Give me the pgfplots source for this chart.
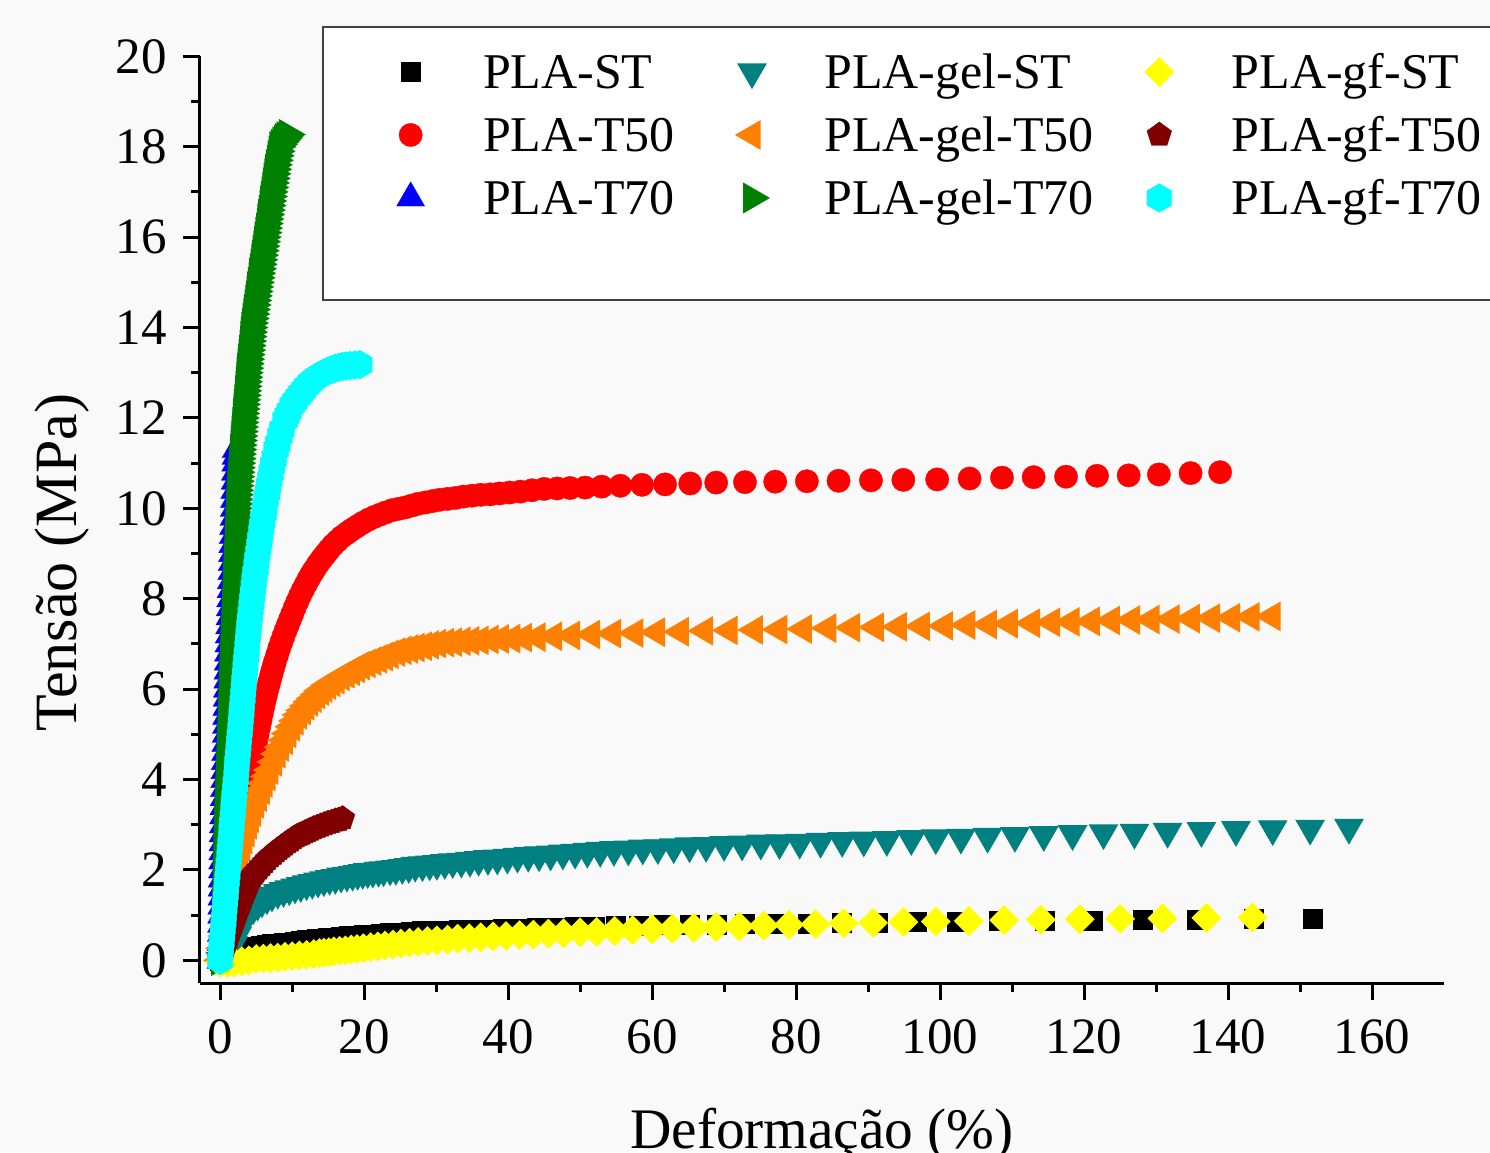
\documentclass[border=0pt]{standalone}
\usepackage{pgfplots}
\pgfplotsset{compat=1.18}
\usepackage{fontspec}
\setmainfont{Liberation Serif}
\definecolor{bgc}{RGB}{249,249,249}
\definecolor{cST}{RGB}{0,0,0}
\definecolor{cTa}{RGB}{255,0,0}
\definecolor{cTb}{RGB}{0,0,255}
\definecolor{cgST}{RGB}{0,128,128}
\definecolor{cgTa}{RGB}{255,128,0}
\definecolor{cgTb}{RGB}{0,128,0}
\definecolor{cfST}{RGB}{255,255,0}
\definecolor{cfTa}{RGB}{128,0,0}
\definecolor{cfTb}{RGB}{0,255,255}
\pgfdeclareplotmark{hexagon*}{%
  \pgfpathmoveto{\pgfqpointpolar{90}{\pgfplotmarksize}}%
  \pgfpathlineto{\pgfqpointpolar{150}{\pgfplotmarksize}}%
  \pgfpathlineto{\pgfqpointpolar{210}{\pgfplotmarksize}}%
  \pgfpathlineto{\pgfqpointpolar{270}{\pgfplotmarksize}}%
  \pgfpathlineto{\pgfqpointpolar{330}{\pgfplotmarksize}}%
  \pgfpathlineto{\pgfqpointpolar{30}{\pgfplotmarksize}}%
  \pgfpathclose
  \pgfusepathqfillstroke
}
\pgfplotsset{
  mk/.style={only marks, color=#1, mark options={solid, fill=#1, draw=#1, line width=0.1pt}},
}
\begin{document}
\begin{tikzpicture}
\path[use as bounding box] (-60pt,-50.7pt) rectangle (387pt,294.9pt);
\clip (-60pt,-50.7pt) rectangle (387pt,294.9pt);
\fill[bgc] (-60pt,-50.7pt) rectangle (387pt,294.9pt);
\filldraw[fill=white, draw=black!75, line width=0.6pt] (36.9pt,204.9pt) rectangle (400pt,286.8pt);
\begin{axis}[
  at={(0pt,0pt)}, anchor=south west,
  width=373.2pt, height=278pt, scale only axis,
  xmin=-2.8, xmax=170, ymin=-0.5, ymax=20,
  axis x line*=bottom, axis y line*=left,
  axis line style={-, line width=0.9pt, black},
  xtick={0,20,...,160}, ytick={0,2,...,20},
  minor x tick num=1, minor y tick num=1,
  tick align=outside,
  major tick length=5.1pt, minor tick length=2.7pt,
  tick style={black, line width=0.9pt},
  /pgf/number format/assume math mode=true,
  ticklabel style={font=\fontsize{15.3}{18}\selectfont},
  xticklabel style={inner sep=0pt, anchor=north, yshift=-5.7pt},
  yticklabel style={inner sep=0pt, anchor=east, xshift=-4.65pt},
  xlabel={Deformação (\%)},
  ylabel={Tensão (MPa)},
  xlabel style={font=\fontsize{17.2}{20}\selectfont, at={(axis description cs:0.5,0)}, anchor=base, yshift=-49.5pt},
  ylabel style={font=\fontsize{18}{21}\selectfont, at={(axis description cs:-0.0989,0.4538)}, anchor=base},
  legend columns=3, transpose legend,
  legend style={at={(0.15005,1.01709)}, anchor=north west, draw=none, fill=none,
    inner sep=0pt, outer sep=0pt, /tikz/column sep=0pt, /tikz/row sep=0pt,
    font=\fontsize{15}{18}\selectfont,
    nodes={inner sep=0pt, text height=14.45pt, text depth=4.45pt}},
  legend image code/.code={\path (-7pt,0pt) (21.5pt,0pt); \draw[mark repeat=2,mark phase=2,#1] plot coordinates {(-1pt,0pt) (0pt,0pt) (1pt,0pt)};},
]
% PLA-ST
\addplot[mk=cST, mark=square*, mark size=2.85pt] coordinates {
(0,0) (0.8,0.04) (1.6,0.09) (2.4,0.15) (3.2,0.21) (4.0,0.27) (4.8,0.30) (5.6,0.33) (6.4,0.35) (7.2,0.36) (8.0,0.38) (8.8,0.39) (9.6,0.40) (10.4,0.42) (11.2,0.43) (12.0,0.45) (12.7,0.46) (13.4,0.48) (14.2,0.49) (15.0,0.50) (15.9,0.51) (16.8,0.53) (17.8,0.54) (18.8,0.55) (19.9,0.57) (21.1,0.58) (22.3,0.59) (23.6,0.61) (25.0,0.62) (26.4,0.63) (28.0,0.65) (29.6,0.66) (31.3,0.665) (33.1,0.67) (35.1,0.68) (37.1,0.69) (39.2,0.70) (41.5,0.71) (43.9,0.72) (46.5,0.735) (49.2,0.745) (52.0,0.75) (55.0,0.76) (58.2,0.77) (61.6,0.78) (65.2,0.79) (68.9,0.80) (72.9,0.805) (77.2,0.815) (81.6,0.82) (86.4,0.83) (91.4,0.845) (96.7,0.85) (102.3,0.86) (108.2,0.87) (114.5,0.88) (121.2,0.89) (128.2,0.90) (135.6,0.91) (143.5,0.92) (151.8,0.93)
};
\addlegendentry{\makebox[73.5pt][l]{PLA-ST}}
% PLA-T50
\addplot[mk=cTa, mark=*, mark size=3.5pt] coordinates {
(0,0) (0.3,0.3) (0.6,0.6) (0.9,0.9) (1.2,1.2) (1.5,1.5) (1.8,1.8) (2.1,2.1) (2.4,2.4) (2.7,2.7) (3.0,3.0) (3.3,3.29) (3.6,3.57) (3.8,3.76) (4.0,3.95) (4.2,4.13) (4.4,4.31) (4.6,4.49) (4.8,4.66) (5.0,4.82) (5.2,4.99) (5.4,5.15) (5.6,5.31) (5.8,5.47) (6.0,5.62) (6.2,5.76) (6.4,5.89) (6.6,6.02) (6.8,6.14) (7.0,6.26) (7.2,6.38) (7.4,6.49) (7.6,6.6) (7.9,6.75) (8.2,6.9) (8.5,7.04) (8.8,7.17) (9.1,7.3) (9.4,7.42) (9.7,7.54) (10.0,7.66) (10.35,7.8) (10.7,7.93) (11.1,8.07) (11.5,8.2) (11.9,8.32) (12.3,8.44) (12.7,8.55) (13.1,8.65) (13.6,8.77) (14.1,8.88) (14.6,8.98) (15.1,9.08) (15.7,9.19) (16.3,9.28) (16.9,9.37) (17.6,9.45) (18.3,9.53) (19.0,9.6) (19.8,9.68) (20.6,9.75) (21.4,9.81) (22.2,9.86) (23.0,9.91) (23.9,9.96) (24.8,9.99) (25.7,10.02) (26.6,10.06) (27.5,10.1) (28.5,10.13) (29.5,10.16) (30.5,10.19) (31.6,10.21) (32.7,10.23) (33.8,10.26) (35.0,10.28) (36.2,10.3) (37.5,10.31) (38.8,10.33) (40.2,10.35) (41.7,10.37) (43.3,10.4) (45.0,10.43) (46.8,10.44) (48.6,10.45) (50.7,10.46) (53.0,10.48) (55.6,10.5) (58.6,10.52) (61.8,10.53) (65.3,10.55) (68.9,10.57) (72.9,10.58) (77.1,10.59) (81.5,10.6) (85.9,10.61) (90.4,10.62) (94.9,10.63) (99.6,10.64) (104.1,10.66) (108.6,10.68) (113.0,10.69) (117.5,10.7) (121.8,10.72) (126.2,10.73) (130.4,10.75) (134.8,10.78) (138.9,10.8)
};
\addlegendentry{\makebox[73.5pt][l]{PLA-T50}}
% PLA-T70
\addplot[mk=cTb, mark=triangle*, mark size=4.85pt] coordinates {
(0.1,0) (0.12,0.2) (0.14,0.4) (0.16,0.6) (0.18,0.8) (0.2,1.0) (0.22,1.2) (0.24,1.4) (0.26,1.6) (0.28,1.8) (0.3,2.0) (0.33,2.2) (0.35,2.4) (0.38,2.6) (0.4,2.8) (0.44,3.0) (0.47,3.2) (0.51,3.4) (0.55,3.6) (0.58,3.8) (0.62,4.0) (0.66,4.2) (0.7,4.4) (0.74,4.6) (0.78,4.8) (0.82,5.0) (0.86,5.2) (0.89,5.4) (0.93,5.6) (0.96,5.8) (1.0,6.0) (1.04,6.2) (1.08,6.4) (1.12,6.6) (1.16,6.8) (1.2,7.0) (1.25,7.2) (1.3,7.4) (1.35,7.6) (1.4,7.8) (1.45,8.0) (1.5,8.2) (1.55,8.4) (1.6,8.6) (1.65,8.8) (1.7,9.0) (1.75,9.2) (1.8,9.4) (1.85,9.6) (1.9,9.8) (1.95,10.0) (1.99,10.2) (2.03,10.4) (2.07,10.6) (2.11,10.8) (2.15,11.0) (2.19,11.15) (2.22,11.3)
};
\addlegendentry{\makebox[73.5pt][l]{PLA-T70}}
% PLA-gel-ST
\addplot[mk=cgST, mark=triangle*, mark size=4.75pt, mark options={rotate=180}] coordinates {
(0,0) (0.6,0.07) (1.2,0.18) (1.8,0.34) (2.4,0.56) (3.0,0.8) (3.5,0.95) (4.0,1.05) (4.6,1.16) (5.2,1.24) (5.8,1.31) (6.5,1.38) (7.2,1.44) (8.0,1.5) (8.8,1.54) (9.6,1.58) (10.4,1.62) (11.2,1.65) (12.0,1.69) (12.8,1.72) (13.6,1.75) (14.4,1.78) (15.2,1.81) (16.0,1.83) (16.8,1.86) (17.6,1.88) (18.4,1.9) (19.1,1.92) (19.8,1.94) (20.5,1.96) (21.2,1.97) (22.0,1.99) (22.7,2.0) (23.6,2.02) (24.4,2.03) (25.3,2.05) (26.2,2.07) (27.1,2.1) (28.1,2.11) (29.1,2.13) (30.1,2.14) (31.2,2.16) (32.3,2.18) (33.5,2.19) (34.7,2.21) (35.9,2.23) (37.2,2.25) (38.5,2.26) (39.9,2.28) (41.3,2.3) (42.8,2.32) (44.3,2.33) (45.9,2.35) (47.6,2.37) (49.3,2.39) (51.0,2.41) (52.8,2.43) (54.7,2.45) (56.7,2.46) (58.7,2.48) (60.8,2.49) (63.0,2.51) (65.2,2.53) (67.5,2.54) (70.0,2.56) (72.5,2.57) (75.1,2.59) (77.7,2.6) (80.5,2.61) (83.4,2.63) (86.4,2.65) (89.4,2.66) (92.6,2.67) (96.0,2.69) (99.4,2.71) (102.9,2.72) (106.6,2.74) (110.4,2.76) (114.4,2.78) (118.4,2.8) (122.7,2.82) (127.0,2.83) (131.6,2.85) (136.3,2.87) (141.1,2.89) (146.2,2.91) (151.4,2.92) (156.8,2.94)
};
\addlegendentry{\makebox[93.3pt][l]{PLA-gel-ST}}
% PLA-gel-T50
\addplot[mk=cgTa, mark=triangle*, mark size=4.75pt, mark options={rotate=90}] coordinates {
(0,0) (0.3,0.27) (0.6,0.54) (0.9,0.81) (1.2,1.08) (1.5,1.35) (1.8,1.62) (2.1,1.87) (2.4,2.08) (2.7,2.29) (3.0,2.5) (3.3,2.67) (3.6,2.83) (3.9,3.0) (4.2,3.14) (4.5,3.28) (4.9,3.46) (5.3,3.61) (5.7,3.77) (6.1,3.92) (6.5,4.07) (6.9,4.21) (7.4,4.39) (7.9,4.57) (8.4,4.72) (8.9,4.87) (9.4,5.02) (9.9,5.17) (10.4,5.3) (10.9,5.43) (11.4,5.53) (11.9,5.63) (12.4,5.72) (12.9,5.8) (13.4,5.88) (13.9,5.96) (14.4,6.02) (14.9,6.09) (15.5,6.15) (16.1,6.21) (16.8,6.28) (17.5,6.34) (18.2,6.4) (18.9,6.46) (19.6,6.52) (20.4,6.57) (21.2,6.62) (22.0,6.67) (22.8,6.72) (23.6,6.77) (24.5,6.82) (25.4,6.86) (26.3,6.89) (27.2,6.92) (28.2,6.95) (29.2,6.98) (30.2,7.01) (31.3,7.03) (32.4,7.04) (33.6,7.06) (34.8,7.07) (36.1,7.08) (37.5,7.1) (38.9,7.11) (40.5,7.12) (42.1,7.14) (44.0,7.15) (46.3,7.17) (48.8,7.19) (51.6,7.21) (54.5,7.23) (57.6,7.24) (60.6,7.26) (63.9,7.27) (67.3,7.29) (70.7,7.3) (74.2,7.31) (77.6,7.32) (81.0,7.33) (84.4,7.35) (87.7,7.36) (91.0,7.37) (94.2,7.38) (97.4,7.39) (100.6,7.4) (103.7,7.42) (106.7,7.43) (109.6,7.45) (112.7,7.46) (115.5,7.48) (118.2,7.49) (121.0,7.5) (123.8,7.52) (126.6,7.53) (129.3,7.54) (132.1,7.55) (134.9,7.56) (137.7,7.57) (140.5,7.58) (143.2,7.6) (146.1,7.61)
};
\addlegendentry{\makebox[93.3pt][l]{PLA-gel-T50}}
% PLA-gel-T70
\addplot[mk=cgTb, mark=triangle*, mark size=5pt, mark options={rotate=-90}] coordinates {
(0,0) (0.02,0.1) (0.03,0.2) (0.05,0.3) (0.06,0.4) (0.08,0.5) (0.09,0.6) (0.11,0.7) (0.12,0.8) (0.14,0.9) (0.15,1.0) (0.17,1.1) (0.18,1.2) (0.2,1.3) (0.21,1.4) (0.23,1.5) (0.24,1.6) (0.26,1.7) (0.27,1.8) (0.29,1.9) (0.3,2.0) (0.31,2.1) (0.33,2.2) (0.34,2.3) (0.35,2.4) (0.36,2.5) (0.38,2.6) (0.39,2.7) (0.4,2.8) (0.42,2.9) (0.44,3.0) (0.47,3.1) (0.49,3.2) (0.51,3.3) (0.53,3.4) (0.56,3.5) (0.58,3.6) (0.6,3.7) (0.62,3.8) (0.64,3.9) (0.67,4.0) (0.69,4.1) (0.71,4.2) (0.73,4.3) (0.76,4.4) (0.78,4.5) (0.8,4.6) (0.82,4.7) (0.84,4.8) (0.87,4.9) (0.89,5.0) (0.91,5.1) (0.93,5.2) (0.96,5.3) (0.98,5.4) (1.0,5.5) (1.02,5.6) (1.04,5.7) (1.06,5.8) (1.08,5.9) (1.1,6.0) (1.12,6.1) (1.14,6.2) (1.16,6.3) (1.18,6.4) (1.2,6.5) (1.23,6.6) (1.25,6.7) (1.28,6.8) (1.3,6.9) (1.33,7.0) (1.35,7.1) (1.38,7.2) (1.4,7.3) (1.43,7.4) (1.45,7.5) (1.48,7.6) (1.5,7.7) (1.53,7.8) (1.55,7.9) (1.58,8.0) (1.6,8.1) (1.63,8.2) (1.65,8.3) (1.68,8.4) (1.7,8.5) (1.73,8.6) (1.76,8.7) (1.78,8.8) (1.81,8.9) (1.84,9.0) (1.87,9.1) (1.89,9.2) (1.92,9.3) (1.95,9.4) (1.97,9.5) (2.0,9.6) (2.02,9.7) (2.05,9.8) (2.07,9.9) (2.09,10.0) (2.12,10.1) (2.14,10.2) (2.18,10.3) (2.22,10.4) (2.27,10.5) (2.32,10.6) (2.36,10.7) (2.41,10.8) (2.45,10.9) (2.5,11.0) (2.55,11.1) (2.6,11.2) (2.65,11.3) (2.7,11.4) (2.75,11.5) (2.8,11.6) (2.85,11.7) (2.9,11.8) (2.95,11.9) (3.0,12.0) (3.06,12.1) (3.11,12.2) (3.17,12.3) (3.22,12.4) (3.28,12.5) (3.33,12.6) (3.39,12.7) (3.44,12.8) (3.5,12.9) (3.55,13.0) (3.62,13.1) (3.68,13.2) (3.75,13.3) (3.81,13.4) (3.88,13.5) (3.94,13.6) (4.01,13.7) (4.07,13.8) (4.14,13.9) (4.2,14.0) (4.29,14.1) (4.38,14.2) (4.47,14.3) (4.56,14.4) (4.65,14.5) (4.74,14.6) (4.83,14.7) (4.92,14.8) (5.01,14.9) (5.1,15.0) (5.2,15.1) (5.29,15.2) (5.39,15.3) (5.48,15.4) (5.58,15.5) (5.67,15.6) (5.77,15.7) (5.86,15.8) (5.96,15.9) (6.05,16.0) (6.15,16.1) (6.24,16.2) (6.34,16.3) (6.43,16.4) (6.53,16.5) (6.62,16.6) (6.72,16.7) (6.81,16.8) (6.91,16.9) (7.0,17.0) (7.1,17.1) (7.2,17.2) (7.3,17.3) (7.4,17.4) (7.5,17.5) (7.6,17.6) (7.73,17.7) (7.85,17.8) (7.98,17.9) (8.1,18.0) (8.3,18.05) (8.5,18.1) (8.7,18.14) (8.9,18.18) (9.1,18.22) (9.4,18.27)
};
\addlegendentry{\makebox[93.3pt][l]{PLA-gel-T70}}
% PLA-gf-ST
\addplot[mk=cfST, mark=square*, mark size=2.97pt, mark options={rotate=45}] coordinates {
(0,-0.05) (1,-0.06) (2,-0.05) (3,-0.02) (4,0.0) (5,0.03) (6,0.04) (7,0.05) (8,0.06) (9,0.08) (10,0.09) (11,0.11) (12,0.12) (13,0.14) (13.8,0.16) (14.4,0.17) (15.1,0.18) (15.8,0.2) (16.6,0.21) (17.4,0.22) (18.2,0.24) (19.0,0.25) (19.9,0.27) (20.9,0.29) (21.9,0.31) (22.9,0.33) (24.0,0.35) (25.1,0.37) (26.3,0.39) (27.5,0.41) (28.8,0.43) (30.1,0.44) (31.6,0.46) (33.0,0.48) (34.6,0.49) (36.2,0.51) (37.9,0.53) (39.7,0.54) (41.6,0.56) (43.5,0.57) (45.6,0.59) (47.7,0.6) (50.0,0.62) (52.3,0.63) (54.8,0.65) (57.3,0.67) (60.0,0.69) (62.8,0.7) (65.8,0.72) (68.9,0.74) (72.1,0.75) (75.5,0.77) (79.0,0.79) (82.7,0.8) (86.6,0.82) (90.7,0.83) (94.9,0.85) (99.4,0.86) (104.0,0.87) (108.9,0.89) (114.0,0.9) (119.4,0.91) (125.0,0.92) (130.9,0.93) (137.0,0.94) (143.4,0.95)
};
\addlegendentry{\makebox[70pt][l]{PLA-gf-ST}}
% PLA-gf-T50
\addplot[mk=cfTa, mark=pentagon*, mark size=3.9pt] coordinates {
(0,0) (0.25,0.1) (0.5,0.21) (0.75,0.31) (1.0,0.42) (1.25,0.53) (1.5,0.65) (1.75,0.76) (2.0,0.88) (2.25,0.98) (2.5,1.09) (2.75,1.19) (3.0,1.3) (3.25,1.4) (3.5,1.5) (3.75,1.6) (4.0,1.7) (4.25,1.8) (4.5,1.86) (4.75,1.91) (5.0,1.96) (5.4,2.03) (5.8,2.1) (6.2,2.17) (6.6,2.24) (7.0,2.3) (7.4,2.35) (7.8,2.41) (8.2,2.46) (8.6,2.51) (9.0,2.56) (9.4,2.61) (9.8,2.65) (10.2,2.7) (10.6,2.74) (11.0,2.77) (11.4,2.8) (11.8,2.83) (12.2,2.86) (12.6,2.89) (13.0,2.92) (13.5,2.95) (14.0,2.98) (14.5,3.01) (15.0,3.04) (15.5,3.06) (16.0,3.09) (16.5,3.11) (17.0,3.14)
};
\addlegendentry{\makebox[70pt][l]{PLA-gf-T50}}
% PLA-gf-T70
\addplot[mk=cfTb, mark=hexagon*, mark size=4.3pt] coordinates {
(0,0) (0.08,0.15) (0.16,0.3) (0.24,0.45) (0.32,0.6) (0.41,0.75) (0.49,0.9) (0.57,1.05) (0.65,1.2) (0.73,1.35) (0.81,1.5) (0.89,1.65) (0.97,1.8) (1.05,1.95) (1.13,2.1) (1.22,2.25) (1.3,2.4) (1.38,2.55) (1.46,2.7) (1.54,2.85) (1.62,3.0) (1.7,3.15) (1.78,3.3) (1.86,3.45) (1.94,3.6) (2.03,3.75) (2.11,3.9) (2.19,4.05) (2.27,4.2) (2.35,4.35) (2.43,4.5) (2.51,4.65) (2.59,4.8) (2.67,4.95) (2.75,5.1) (2.84,5.25) (2.92,5.4) (3.0,5.55) (3.08,5.7) (3.16,5.85) (3.24,6.0) (3.32,6.15) (3.4,6.3) (3.48,6.45) (3.56,6.6) (3.64,6.75) (3.72,6.9) (3.81,7.05) (3.9,7.2) (3.99,7.35) (4.08,7.5) (4.18,7.65) (4.28,7.8) (4.39,7.95) (4.5,8.1) (4.61,8.25) (4.72,8.4) (4.84,8.55) (4.97,8.7) (5.09,8.85) (5.22,9.0) (5.36,9.15) (5.5,9.3) (5.63,9.45) (5.78,9.6) (5.93,9.75) (6.08,9.9) (6.23,10.05) (6.39,10.2) (6.56,10.35) (6.72,10.5) (6.91,10.65) (7.1,10.8) (7.29,10.95) (7.5,11.1) (7.75,11.3) (8.0,11.43) (8.3,11.6) (8.6,11.75) (9.0,11.95) (9.3,12.05) (9.6,12.15) (10.0,12.28) (10.4,12.37) (10.8,12.46) (11.2,12.54) (11.6,12.62) (12.0,12.7) (12.5,12.78) (13.0,12.85) (13.5,12.91) (14.0,12.96) (14.5,13.0) (15.0,13.04) (15.5,13.07) (16.0,13.1) (16.5,13.12) (17.0,13.14) (17.5,13.15) (18.0,13.16) (18.7,13.17) (19.4,13.18)
};
\addlegendentry{\makebox[70pt][l]{PLA-gf-T70}}
\end{axis}
\end{tikzpicture}
\end{document}
